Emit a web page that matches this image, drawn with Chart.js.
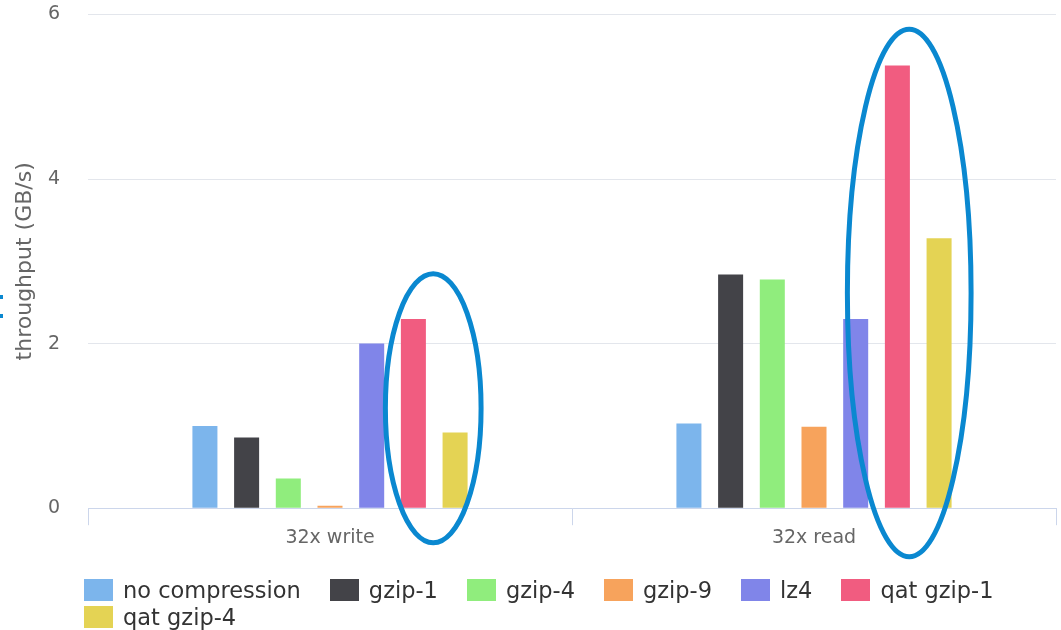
<!DOCTYPE html>
<html>
<head>
<meta charset="utf-8">
<title>Compression throughput</title>
<script src="https://cdn.jsdelivr.net/npm/chart.js@4/dist/chart.umd.min.js"></script>
<style>
  html, body { margin: 0; padding: 0; background: #ffffff; }
  #wrap { position: relative; width: 1061px; height: 630px; overflow: hidden; }
  #chart { position: absolute; left: 0; top: 0; }
  #legend {
    position: absolute; left: 84px; top: 579px; width: 960px;
    display: flex; flex-wrap: wrap; row-gap: 5px;
    font-family: "DejaVu Sans", sans-serif; font-size: 22.5px; color: #333333;
  }
  .item { display: flex; align-items: center; height: 22px; margin-right: 29px; white-space: nowrap; }
  .swatch { width: 29px; height: 22px; margin-right: 10px; }
</style>
</head>
<body>
<div id="wrap">
  <canvas id="chart" width="1061" height="630"></canvas>
  <div id="legend"></div>
</div>
<script>
// Workloads on the x axis
const categories = ['32x write', '32x read'];

// Throughput in GB/s per compression setting, [write, read]
const noCompression = [1.00, 1.03];
const gzip1 = [0.86, 2.84];
const gzip4 = [0.36, 2.78];
const gzip9 = [0.03, 0.99];
const lz4 = [2.00, 2.30];
const qatGzip1 = [2.30, 5.38];
const qatGzip4 = [0.92, 3.28];

const seriesNames = ['no compression', 'gzip-1', 'gzip-4', 'gzip-9', 'lz4', 'qat gzip-1', 'qat gzip-4'];
const seriesValues = [noCompression, gzip1, gzip4, gzip9, lz4, qatGzip1, qatGzip4];
const seriesColors = ['#7cb5ec', '#434348', '#90ed7d', '#f7a35c', '#8085e9', '#f15c80', '#e4d354'];

// Value axis ticks
const yTicks = [0, 2, 4, 6];

// Highlight rings around the QAT bars: category, value span and side margins in px
const highlights = [
  { category: 0, from: -0.42, to: 2.85, padLeft: 28, padRight: 26 },
  { category: 1, from: -0.59, to: 5.82, padLeft: 50, padRight: 32 }
];
const highlightSeries = [5, 6];

const ringPlugin = {
  id: 'rings',
  afterDraw(chart) {
    const ctx = chart.ctx;
    const y = chart.scales.y;
    const first = chart.getDatasetMeta(highlightSeries[0]);
    const last = chart.getDatasetMeta(highlightSeries[1]);
    ctx.save();
    ctx.strokeStyle = '#0a88d0';
    ctx.lineWidth = 5;
    highlights.forEach(h => {
      const x0 = first.data[h.category].x - h.padLeft;
      const x1 = last.data[h.category].x + h.padRight;
      const yTop = y.getPixelForValue(h.to);
      const yBot = y.getPixelForValue(h.from);
      ctx.beginPath();
      ctx.ellipse((x0 + x1) / 2, (yTop + yBot) / 2, (x1 - x0) / 2, (yBot - yTop) / 2, 0, 0, Math.PI * 2);
      ctx.stroke();
    });
    // small marks at the far left edge
    ctx.fillStyle = '#0a88d0';
    ctx.fillRect(0, 295, 3, 4);
    ctx.fillRect(0, 314, 3, 4);
    ctx.restore();
  }
};

const chart = new Chart(document.getElementById('chart'), {
  type: 'bar',
  data: {
    labels: categories,
    datasets: seriesNames.map((name, i) => ({
      label: name,
      data: seriesValues[i],
      backgroundColor: seriesColors[i],
      borderWidth: 0,
      categoryPercentage: 0.603,
      barPercentage: 0.6
    }))
  },
  options: {
    responsive: false,
    animation: false,
    layout: { padding: { left: 0, right: 5, top: 12, bottom: 80 } },
    plugins: {
      legend: { display: false },
      tooltip: { enabled: false }
    },
    scales: {
      x: {
        grid: { drawOnChartArea: false, drawTicks: true, tickLength: 17, color: '#ccd6eb', offset: true },
        border: { color: '#ccd6eb', width: 1 },
        ticks: { color: '#666666', padding: 1, font: { family: 'DejaVu Sans', size: 19 } }
      },
      y: {
        min: 0,
        max: 6,
        afterBuildTicks: axis => { axis.ticks = yTicks.map(v => ({ value: v })); },
        afterFit: axis => { axis.width = 88; },
        grid: { color: '#e3e6ec', drawTicks: true, tickLength: 25, tickColor: 'rgba(0,0,0,0)' },
        border: { display: false },
        ticks: { color: '#666666', padding: 3, font: { family: 'DejaVu Sans', size: 19 } },
        title: {
          display: true,
          text: 'throughput (GB/s)',
          color: '#666666',
          padding: { top: 12, bottom: 0 },
          font: { family: 'DejaVu Sans', size: 22 }
        }
      }
    }
  },
  plugins: [ringPlugin]
});

// Legend built from the chart's own datasets
const legend = document.getElementById('legend');
chart.data.datasets.forEach(ds => {
  const item = document.createElement('div');
  item.className = 'item';
  const sw = document.createElement('span');
  sw.className = 'swatch';
  sw.style.background = ds.backgroundColor;
  const txt = document.createElement('span');
  txt.textContent = ds.label;
  item.appendChild(sw);
  item.appendChild(txt);
  legend.appendChild(item);
});
</script>
</body>
</html>
